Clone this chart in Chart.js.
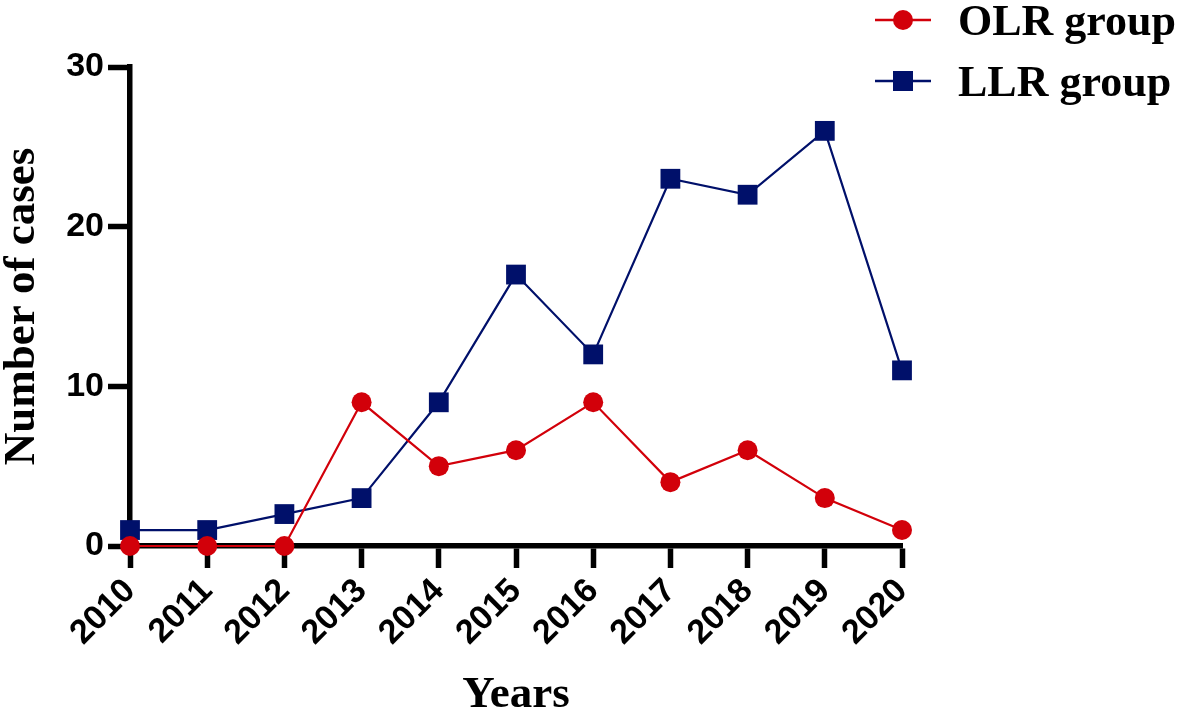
<!DOCTYPE html>
<html>
<head>
<meta charset="utf-8">
<script src="https://cdn.jsdelivr.net/npm/chart.js@4/dist/chart.umd.min.js"></script>
<style>
  html, body { margin: 0; padding: 0; background: #fff; }
  #wrap { position: relative; width: 1181px; height: 716px; }
  #legend { position: absolute; left: 874px; top: 0; font-family: "Liberation Serif", "Times New Roman", serif; font-weight: bold; font-size: 44px; color: #000; }
  .item { position: absolute; left: 0; height: 40px; display: flex; align-items: center; white-space: nowrap; }
  .item svg { width: 58px; height: 40px; margin-right: 26px; }
</style>
</head>
<body>
<div id="wrap">
  <canvas id="c" width="1181" height="716"></canvas>
  <div id="legend"></div>
</div>
<script>
const years = ['2010','2011','2012','2013','2014','2015','2016','2017','2018','2019','2020'];
const olrGroup = [0, 0, 0, 9, 5, 6, 9, 4, 6, 3, 1];
const llrGroup = [1, 1, 2, 3, 9, 17, 12, 23, 22, 26, 11];
const yTicks = [0, 10, 20, 30];
const seriesNames = ['OLR group', 'LLR group'];

const RED = '#D2000A';
const NAVY = '#00106A';

const tickFont = { family: '"Liberation Sans", Arial, sans-serif', weight: 'bold', size: 34 };
const titleFont = { family: '"Liberation Serif", "Times New Roman", serif', weight: 'bold', size: 45, lineHeight: 1 };

const chart = new Chart(document.getElementById('c'), {
  type: 'line',
  data: {
    labels: years,
    datasets: [
      { label: seriesNames[0], data: olrGroup, borderColor: RED, backgroundColor: RED,
        borderWidth: 2.2, pointStyle: 'circle', pointRadius: 10, pointHoverRadius: 10,
        pointBorderWidth: 0, clip: false, tension: 0 },
      { label: seriesNames[1], data: llrGroup, borderColor: NAVY, backgroundColor: NAVY,
        borderWidth: 2.2, pointStyle: 'rect', pointRadius: 14, pointHoverRadius: 14,
        pointBorderWidth: 0, clip: false, tension: 0 }
    ]
  },
  options: {
    responsive: false,
    animation: false,
    events: [],
    layout: { padding: { top: 67, left: 0, right: 279, bottom: 0 } },
    plugins: { legend: { display: false }, tooltip: { enabled: false } },
    scales: {
      x: {
        type: 'category',
        offset: false,
        border: { display: true, color: '#000', width: 5.5 },
        grid: { display: true, drawOnChartArea: false, drawTicks: true, tickLength: 22, tickWidth: 5.5, tickColor: '#000', color: '#000' },
        ticks: { color: '#000', font: tickFont, minRotation: 45, maxRotation: 45, padding: 3, autoSkip: false },
        title: { display: true, text: 'Years', color: '#000', font: titleFont, padding: { top: 0, bottom: -2 } },
        afterFit(scale) { scale.height = 170; }
      },
      y: {
        min: 0, max: 30,
        afterBuildTicks(scale) { scale.ticks = yTicks.map(v => ({ value: v })); },
        border: { display: true, color: '#000', width: 5.5 },
        grid: { display: true, drawOnChartArea: false, drawTicks: true, tickLength: 22, tickWidth: 5.5, tickColor: '#000', color: '#000' },
        ticks: { color: '#000', font: tickFont, padding: 4 },
        title: { display: true, text: 'Number of cases', color: '#000', font: titleFont, padding: { top: 0, bottom: 0 } },
        afterFit(scale) { scale.width = 130; }
      }
    }
  }
});

// HTML legend built from the chart datasets
const legend = document.getElementById('legend');
chart.data.datasets.forEach((ds, i) => {
  const item = document.createElement('div');
  item.className = 'item';
  item.style.top = (i * 61) + 'px';
  const marker = ds.pointStyle === 'rect'
    ? `<rect x="19" y="10" width="20" height="20" fill="${ds.backgroundColor}"/>`
    : `<circle cx="29" cy="20" r="10" fill="${ds.backgroundColor}"/>`;
  item.innerHTML = `<svg viewBox="0 0 58 40"><line x1="1" y1="20" x2="57" y2="20" stroke="${ds.borderColor}" stroke-width="2.5"/>${marker}</svg><span>${ds.label}</span>`;
  legend.appendChild(item);
});
</script>
</body>
</html>
